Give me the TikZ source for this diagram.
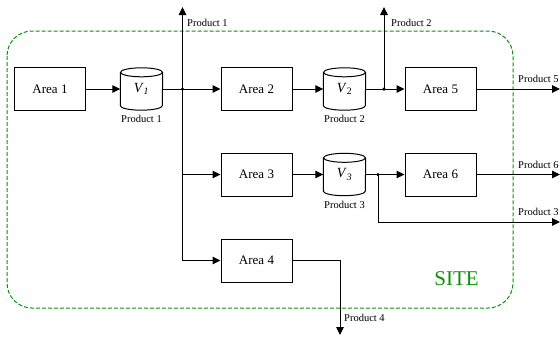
\documentclass[tikz,border=0pt]{standalone}
\usepackage{fontspec}
\setmainfont{Liberation Serif}
\usetikzlibrary{arrows.meta}
\definecolor{sitegreen}{RGB}{10,145,10}
\tikzset{
  area/.style={draw, line width=1pt, minimum width=71pt, minimum height=43pt, inner sep=0pt, font=\fontsize{13}{15}\selectfont},
  cylnode/.style={minimum width=42pt, minimum height=42pt, inner sep=0pt, font=\fontsize{14}{16}\selectfont},
  arr/.style={line width=1pt, -{Triangle[length=8pt,width=7.5pt]}},
  lbl/.style={font=\fontsize{10.5}{12}\selectfont, inner sep=0pt},
  jdot/.style={circle, fill, inner sep=0pt, minimum size=3.5pt},
}
\newcommand{\mycyl}[1]{%
  \draw[line width=1pt] ([yshift=-4.5pt]#1.north west) -- ([yshift=4.5pt]#1.south west)
    arc[start angle=180, end angle=360, x radius=21pt, y radius=4.5pt]
    -- ([yshift=-4.5pt]#1.north east);
  \draw[line width=1pt] ([yshift=-4.5pt]#1.north) ellipse[x radius=21pt, y radius=4.5pt];
}
\begin{document}
\begin{tikzpicture}[x=1pt, y=-1pt]
\useasboundingbox (0,0) rectangle (560,338);
% site
\draw[sitegreen, line width=1pt, dash pattern=on 4pt off 2pt, rounded corners=25pt] (7,31) rectangle (513,308);
\node[sitegreen, font=\fontsize{21}{24}\selectfont, inner sep=0pt] (site) at (456.5,278.5) {SITE};
% areas
\node[area] (a1) at (50,89) {Area 1};
\node[area] (a2) at (256.5,89) {Area 2};
\node[area] (a5) at (440.5,89) {Area 5};
\node[area] (a3) at (256.5,174.5) {Area 3};
\node[area] (a6) at (440.5,174.5) {Area 6};
\node[area] (a4) at (256.5,260.5) {Area 4};
% cylinders
\node[cylnode] (v1) at (141.5,89) {\textit{V}\textsubscript{\textit{1}}};
\node[cylnode] (v2) at (344.5,89) {\textit{V}\textsubscript{2}};
\node[cylnode] (v3) at (344.5,174.5) {\textit{V}\textsubscript{\textit{3}}};
\mycyl{v1}\mycyl{v2}\mycyl{v3}
\node[lbl] (l1) at (141.5,118.5) {Product 1};
\node[lbl] (l2) at (344.5,118.5) {Product 2};
\node[lbl] (l3) at (344.5,204.5) {Product 3};
% junctions
\node[jdot] (j1) at (182.5,89) {};
\node[jdot] (j2) at (384,89) {};
\node[jdot] (j3) at (378,174.5) {};
\coordinate (t1) at (182.5,7);
\coordinate (t2) at (384,7);
\coordinate (o5) at (560,89);
\coordinate (o6) at (560,174.5);
\coordinate (o3) at (560,222);
\coordinate (o4) at (340,335);
% connectors
\draw[arr] (a1) -- (v1);
\draw[arr] (v1) -- (a2);
\draw[arr] (j1.center) -- (t1);
\draw[arr] (j1.center) |- (a3);
\draw[arr] (j1.center) |- (a4);
\draw[arr] (a2) -- (v2);
\draw[arr] (v2) -- (a5);
\draw[arr] (j2.center) -- (t2);
\draw[arr] (a5) -- (o5);
\draw[arr] (a3) -- (v3);
\draw[arr] (v3) -- (a6);
\draw[arr] (a6) -- (o6);
\draw[arr] (j3.center) |- (o3);
\draw[arr] (a4) -| (o4);
% product labels
\node[lbl, anchor=west] (p1) at (187,23) {Product 1};
\node[lbl, anchor=west] (p2) at (391,23) {Product 2};
\node[lbl, anchor=west] (p5) at (518,79) {Product 5};
\node[lbl, anchor=west] (p6) at (518,165) {Product 6};
\node[lbl, anchor=west] (p3) at (518,212) {Product 3};
\node[lbl, anchor=west] (p4) at (344,318) {Product 4};
\end{tikzpicture}
\end{document}
